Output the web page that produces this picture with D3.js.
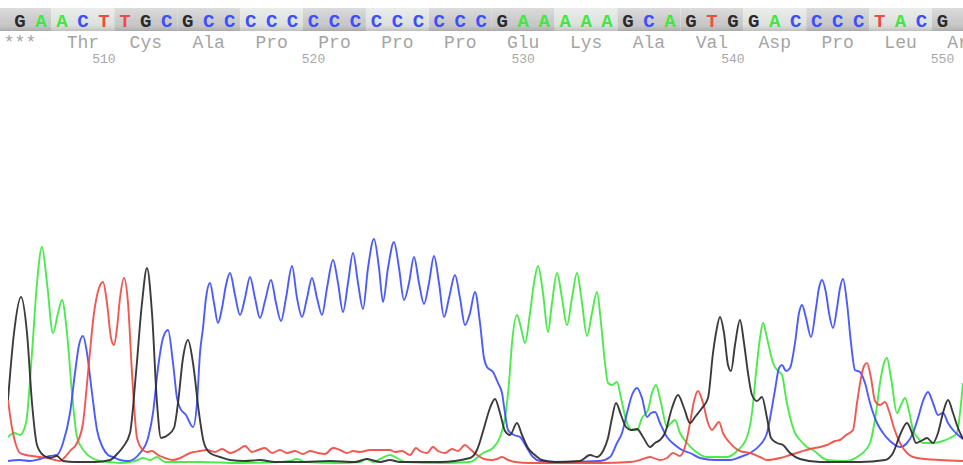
<!DOCTYPE html>
<html>
<head>
<meta charset="utf-8">
<script src="https://cdn.jsdelivr.net/npm/d3@7"></script>
<style>
  html, body { margin: 0; padding: 0; background: #ffffff; }
  svg { display: block; }
</style>
</head>
<body>
<svg id="chart" width="963" height="465"></svg>
<script>
// Base calls, reading 5'→3'; the first call is position 506
const baseCalls = "GAACTTGCGCCCCCCCCCCCCCCGAAAAAGCAGTGGACCCCTACG".split("");
const firstPosition = 506;
// Translation, one residue per codon (codon k centred on base 3k)
const aminoAcids = ["***", "Thr", "Cys", "Ala", "Pro", "Pro", "Pro", "Pro",
                    "Glu", "Lys", "Ala", "Val", "Asp", "Pro", "Leu", "Arg"];
const positionTicks = [510, 520, 530, 540, 550];
// Codons with the lighter header shade
const lightCodons = [1, 4, 6, 9, 12, 14];

// Trace samples: [scan, signal]
const traceA = [
  [8,26],[14,30],[20,28],[26,40],[32,110],[37,180],[42,216],[47,180],[53,130],[58,150],[62,163],
  [67,130],[72,70],[77,26],[84,12],[92,5],[100,2],[110,1],[120,0],[135,2],[143,5],[150,3],[157,6],
  [165,1],[200,1],[240,0],[280,1],[290,2],[297,4],[305,1],[340,0],[360,1],[367,4],[373,1],[380,4],
  [390,8],[397,5],[405,1],[440,0],[470,1],[483,10],[493,15],[500,26],[505,45],[509,80],[512,120],
  [517,148],[521,135],[525,120],[530,150],[534,180],[538,197],[543,170],[548,131],[552,160],
  [557,190],[562,165],[567,138],[572,165],[577,190],[582,160],[587,127],[592,150],[597,171],
  [601,140],[605,100],[608,80],[612,78],[617,81],[621,65],[627,40],[632,33],[637,33],[642,45],
  [648,53],[652,70],[656,78],[661,60],[667,36],[671,40],[675,43],[680,30],[687,20],[695,12],
  [707,6],[727,6],[737,12],[747,26],[752,50],[756,90],[760,125],[763,140],[767,125],[773,100],
  [778,92],[782,88],[786,65],[790,46],[795,30],[800,23],[807,16],[813,13],[827,3],[845,2],
  [860,8],[870,20],[876,50],[880,80],[884,100],[887,105],[891,85],[897,50],[901,58],[905,65],
  [909,52],[913,33],[918,25],[923,20],[933,20],[943,22],[950,25],[957,30],[960,50],[963,80]
];
const traceC = [
  [8,2],[20,3],[30,2],[40,4],[50,7],[57,8],[63,20],[70,50],[75,90],[79,118],[83,127],[87,110],
  [92,70],[97,33],[103,15],[108,8],[113,6],[120,3],[128,2],[140,10],[148,25],[153,50],[158,95],
  [163,125],[168,133],[173,100],[177,65],[180,55],[186,48],[193,36],[197,60],[200,110],[203,135],
  [206,165],[210,180],[214,160],[218,140],[222,155],[226,178],[230,190],[235,168],[240,148],
  [245,165],[250,186],[255,165],[260,145],[265,162],[271,183],[276,160],[281,142],[286,165],
  [292,197],[297,165],[302,146],[307,165],[312,185],[317,165],[322,148],[327,175],[333,203],
  [338,180],[343,151],[348,180],[353,210],[358,180],[363,154],[368,195],[374,224],[379,195],
  [383,161],[388,195],[394,221],[399,195],[404,163],[409,180],[414,206],[419,180],[424,159],
  [429,180],[434,207],[439,180],[444,146],[449,165],[455,188],[460,165],[465,138],[470,150],
  [475,171],[480,140],[484,105],[487,96],[493,91],[498,80],[502,70],[505,50],[508,33],[514,28],
  [520,26],[527,15],[533,6],[540,2],[560,1],[600,2],[610,6],[617,20],[622,30],[627,50],[632,68],
  [637,75],[642,65],[647,46],[651,50],[655,51],[660,40],[667,26],[675,18],[682,13],[690,10],
  [700,5],[715,3],[730,3],[740,6],[750,10],[760,18],[767,30],[771,50],[775,73],[779,95],[782,98],
  [786,92],[790,95],[795,120],[799,150],[802,158],[806,145],[811,126],[816,155],[819,175],
  [822,183],[826,170],[829,150],[833,135],[837,155],[840,175],[843,184],[847,160],[851,120],
  [855,93],[860,91],[865,80],[870,60],[877,40],[883,30],[890,22],[900,16],[907,20],[913,30],
  [918,45],[923,62],[928,71],[933,60],[938,48],[943,50],[948,40],[953,33],[958,28],[963,24]
];
const traceG = [
  [8,63],[14,130],[21,166],[27,130],[32,60],[37,18],[43,8],[50,5],[57,7],[63,2],[75,1],[95,1],
  [110,3],[118,10],[123,16],[130,30],[136,90],[142,160],[147,195],[152,150],[157,60],[161,25],
  [168,28],[174,35],[178,60],[183,105],[188,123],[193,100],[199,50],[204,20],[210,10],[220,6],
  [230,3],[245,2],[260,3],[275,1],[300,1],[330,2],[355,1],[367,4],[380,1],[390,3],[400,1],
  [440,1],[470,5],[477,13],[484,35],[490,55],[495,64],[500,50],[505,32],[510,28],[517,40],
  [522,28],[528,15],[535,8],[542,3],[555,1],[580,2],[590,8],[597,6],[603,12],[608,25],[612,45],
  [616,60],[621,48],[626,36],[631,33],[637,34],[643,26],[650,16],[655,20],[660,23],[665,30],
  [672,55],[678,68],[684,55],[690,40],[695,46],[702,55],[708,65],[713,110],[716,130],[720,146],
  [724,130],[728,98],[731,92],[735,118],[740,143],[744,120],[748,90],[752,68],[757,62],[762,66],
  [767,45],[771,25],[777,20],[783,18],[790,10],[800,4],[820,1],[860,1],[885,3],[893,10],
  [900,28],[907,40],[912,30],[916,20],[921,22],[927,25],[933,20],[938,30],[943,50],[948,63],
  [953,50],[958,35],[963,24]
];
const traceT = [
  [8,63],[12,35],[16,18],[20,10],[26,8],[32,7],[40,6],[48,5],[55,3],[60,2],[65,6],[70,12],
  [77,20],[83,40],[88,90],[94,150],[99,175],[103,181],[107,160],[111,125],[114,118],[117,135],
  [120,165],[124,185],[128,160],[132,90],[137,25],[142,14],[147,11],[152,12],[158,8],[165,5],
  [173,3],[180,5],[190,10],[200,12],[207,13],[215,11],[222,14],[230,10],[238,13],[245,17],
  [252,11],[258,13],[265,15],[272,10],[280,13],[287,10],[295,12],[303,9],[310,12],[318,10],
  [325,9],[333,15],[340,13],[347,10],[353,12],[360,11],[370,13],[380,13],[390,13],[395,11],
  [402,12],[410,8],[416,15],[420,12],[427,10],[433,16],[438,12],[445,10],[452,14],[458,12],
  [465,18],[470,14],[477,8],[484,4],[492,3],[497,4],[502,6],[508,3],[515,1],[530,0],[600,0],
  [630,1],[640,3],[650,6],[660,3],[667,5],[673,10],[680,7],[686,20],[690,40],[694,62],[698,72],
  [703,60],[708,40],[712,33],[716,38],[719,41],[723,30],[730,20],[740,12],[750,10],[760,6],
  [767,3],[780,5],[790,8],[800,11],[810,14],[820,16],[827,18],[835,22],[840,23],[846,28],
  [853,33],[857,60],[861,85],[864,97],[867,100],[871,85],[875,62],[880,58],[885,61],[889,52],
  [894,35],[900,20],[907,10],[913,6],[925,4],[940,3],[963,2]
];

const baseColor = { A: "#3ee83e", C: "#3d4dff", G: "#2a2a2a", T: "#f04a42" };

const svg = d3.select("#chart");
const W = 963, H = 465;

// Scales
const posScale = d3.scaleLinear()
  .domain([firstPosition, firstPosition + baseCalls.length - 1])
  .range([20, 942.5]);
const scanScale = d3.scaleLinear().domain([0, 963]).range([0, 963]);
const signalScale = d3.scaleLinear().domain([0, 240]).range([463, 223]);

// ---- Header band with base calls ----
const barTop = 8, barBottom = 31;
const defs = svg.append("defs");
const grad = defs.append("linearGradient").attr("id", "barShade")
  .attr("x1", 0).attr("y1", 0).attr("x2", 0).attr("y2", 1);
grad.append("stop").attr("offset", "0%").attr("stop-color", "#ffffff").attr("stop-opacity", 0.35);
grad.append("stop").attr("offset", "60%").attr("stop-color", "#ffffff").attr("stop-opacity", 0);
grad.append("stop").attr("offset", "100%").attr("stop-color", "#000000").attr("stop-opacity", 0.16);

const codonIdx = d3.range(aminoAcids.length);
svg.append("g").selectAll("rect").data(codonIdx).join("rect")
  .attr("x", k => posScale(firstPosition + 3 * k - 1.5))
  .attr("width", k => posScale(firstPosition + 3 * k + 1.5) - posScale(firstPosition + 3 * k - 1.5))
  .attr("y", barTop).attr("height", barBottom - barTop)
  .attr("fill", k => lightCodons.includes(k) ? "#dfe3df" : "#c9c9c9");
svg.append("rect").attr("x", 0).attr("width", W).attr("y", barTop)
  .attr("height", barBottom - barTop).attr("fill", "url(#barShade)");

svg.append("g").selectAll("text").data(baseCalls).join("text")
  .attr("x", (b, i) => posScale(firstPosition + i))
  .attr("y", 27)
  .attr("text-anchor", "middle")
  .attr("font-family", "'Liberation Mono', 'DejaVu Sans Mono', monospace")
  .attr("font-weight", "bold")
  .attr("font-size", 19)
  .attr("fill", b => baseColor[b])
  .text(b => b);

// ---- Translation row ----
svg.append("g").selectAll("text").data(aminoAcids).join("text")
  .attr("x", (a, k) => posScale(firstPosition + 3 * k))
  .attr("y", 48)
  .attr("text-anchor", "middle")
  .attr("font-family", "'Liberation Mono', monospace")
  .attr("font-size", 18)
  .attr("fill", "#a4a4a4")
  .text(a => a);

// ---- Position numbers ----
svg.append("g").selectAll("text").data(positionTicks).join("text")
  .attr("x", p => posScale(p))
  .attr("y", 63)
  .attr("text-anchor", "middle")
  .attr("font-family", "'Liberation Mono', monospace")
  .attr("font-size", 13)
  .attr("fill", "#a8a8a8")
  .text(p => p);

// ---- Chromatogram traces ----
defs.append("clipPath").attr("id", "plotClip")
  .append("rect").attr("x", 8).attr("y", 150).attr("width", W - 8).attr("height", 315);

// Monotone interpolation keeps peak tops and valley floors rounded
const line = d3.line()
  .x(d => scanScale(d[0]))
  .y(d => signalScale(d[1]))
  .curve(d3.curveMonotoneX);

const traces = [
  { base: "A", data: traceA },
  { base: "C", data: traceC },
  { base: "T", data: traceT },
  { base: "G", data: traceG }
];

svg.append("g").attr("clip-path", "url(#plotClip)")
  .selectAll("path").data(traces).join("path")
  .attr("d", t => line(t.data))
  .attr("fill", "none")
  .attr("stroke", t => baseColor[t.base])
  .attr("stroke-width", 1.9)
  .attr("stroke-linejoin", "round")
  .attr("stroke-opacity", 0.92);
</script>
</body>
</html>
